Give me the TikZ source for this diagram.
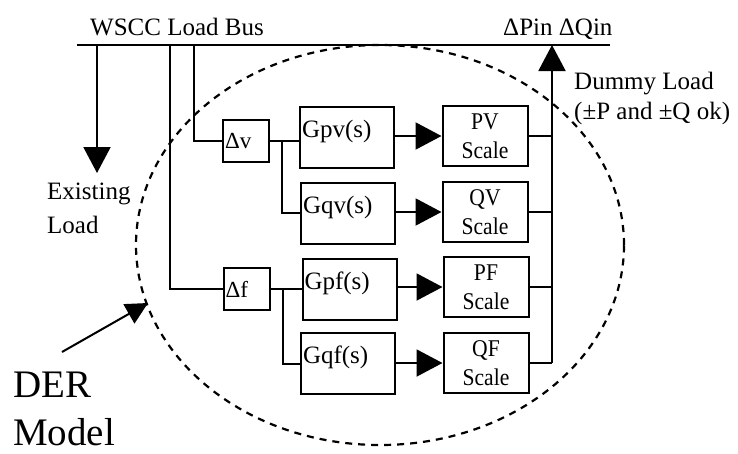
\documentclass[tikz,border=0pt]{standalone}
\usepackage{fontspec}
\setmainfont{Liberation Serif}
\newfontfamily\tallserif[FakeStretch=0.9]{Liberation Serif}
\usetikzlibrary{arrows.meta}
\tikzset{
 conn/.style={line width=2pt},
 bigtip/.style={-{Triangle[length=26pt,width=27pt]}},
 dbox/.style={draw, line width=2pt, minimum height=42pt, text width=42pt, inner xsep=2pt, align=left, font=\fontsize{23}{27}\selectfont},
 gbox/.style={draw, line width=2pt, minimum height=61pt, inner xsep=2pt, text width=90pt, align=left, text height=18pt, text depth=18pt, font=\fontsize{25}{30}\selectfont},
 sbox/.style={draw, line width=2pt, minimum width=85pt, minimum height=60pt, align=center, font=\tallserif\fontsize{24}{29}\selectfont},
 lbl/.style={font=\fontsize{25}{30}\selectfont, inner sep=0pt},
}
\begin{document}
\begin{tikzpicture}[x=1pt,y=-1pt]
\useasboundingbox (0,0) rectangle (738,453);
% DER model boundary
\draw[line width=2.2pt, dash pattern=on 7pt off 6pt] (380,245) ellipse [x radius=244pt, y radius=200pt];
% bus
\coordinate (busL) at (77,45);
\coordinate (busR) at (610,45);
\draw[conn] (busL) -- (busR);
\node[lbl, anchor=base west] (wscc) at (90,35) {WSCC Load Bus};
\node[lbl, anchor=base west] (dpq) at (503,35) {ΔPin ΔQin};
\node[lbl, anchor=base west, align=left] (dummy) at (574,119) {Dummy Load\\(±P and ±Q ok)};
% existing load
\coordinate (exTop) at (97,45);
\coordinate (exTip) at (97,173);
\draw[conn,bigtip] (exTop) -- (exTip);
\node[lbl, anchor=base west, align=left, font=\fontsize{25}{34}\selectfont] (exist) at (47,233) {Existing\\Load};
% delta boxes
\node[dbox] (dv) at (246,141) {Δv};
\node[dbox] (df) at (246.5,289) {Δf};
\coordinate (tapF) at (170,45);
\coordinate (tapV) at (194,45);
\draw[conn] (tapF) |- (df.west);
\draw[conn] (tapV) |- (dv.west);
% transfer function boxes
\node[gbox] (gpv) at (347,137.5) {Gpv(s)};
\node[gbox] (gqv) at (348,213) {Gqv(s)};
\node[gbox] (gpf) at (349.5,289.5) {Gpf(s)};
\node[gbox] (gqf) at (348,363.5) {Gqf(s)};
\draw[conn] (dv.east) -- (dv.east -| gpv.west);
\coordinate (brV) at (282,141);
\draw[conn] (brV) |- (gqv.west);
\draw[conn] (df.east) -- (df.east -| gpf.west);
\coordinate (brF) at (283,289);
\draw[conn] (brF) |- (gqf.west);
% scale boxes
\node[sbox] (pv) at (485,136) {PV\\Scale};
\node[sbox] (qv) at (485,212) {QV\\Scale};
\node[sbox] (pf) at (486,287) {PF\\Scale};
\node[sbox] (qf) at (486,363) {QF\\Scale};
\draw[conn,bigtip] (gpv.east |- pv.west) -- (pv.west);
\draw[conn,bigtip] (gqv.east |- qv.west) -- (qv.west);
\draw[conn,bigtip] (gpf.east |- pf.west) -- (pf.west);
\draw[conn,bigtip] (gqf.east |- qf.west) -- (qf.west);
% collector / dummy load
\coordinate (colT) at (552,45);
\coordinate (colB) at (552,363);
\draw[conn,bigtip] (colB) -- (colT);
\draw[conn] (pv.east) -- (pv.east -| colT);
\draw[conn] (qv.east) -- (qv.east -| colT);
\draw[conn] (pf.east) -- (pf.east -| colT);
\draw[conn] (qf.east) -- (colB);
% DER label
\coordinate (derFrom) at (62,352);
\coordinate (derTo) at (148,303);
\draw[conn, -{Triangle[length=22pt,width=22pt]}] (derFrom) -- (derTo);
\node[anchor=base west, align=left, font=\fontsize{39}{48}\selectfont, inner sep=0pt, text depth=0pt] (der) at (13,445) {DER\\Model};
\end{tikzpicture}
\end{document}
